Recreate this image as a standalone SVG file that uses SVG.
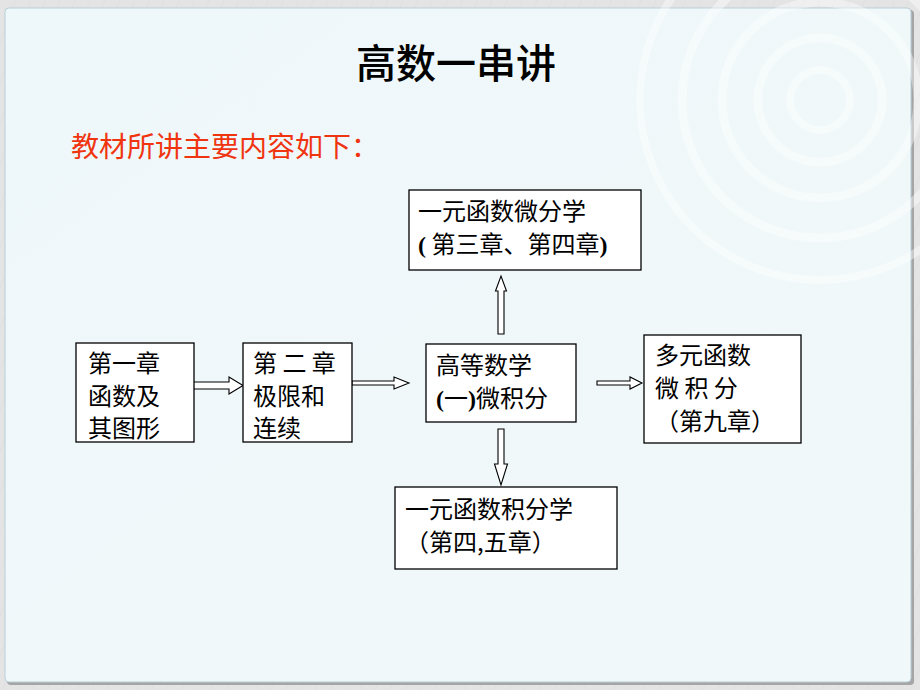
<svg xmlns="http://www.w3.org/2000/svg" width="920" height="690" viewBox="0 0 920 690">
  <defs>
    <style>
      .box { fill: #ffffff; stroke: #000000; stroke-width: 1.3; }
      .t { font-family: "Noto Sans CJK SC", "Liberation Sans", sans-serif; font-size: 24px; fill: #000000; }
      .p { font-family: "Liberation Serif", "Noto Sans CJK SC", serif; font-weight: bold; }
      .arrow { fill: #ffffff; stroke: #000000; stroke-width: 1.1; stroke-linejoin: miter; }
      .stripe { stroke: #d6d6d6; stroke-width: 1; }
      .ring { fill: none; stroke: #ffffff; stroke-opacity: 0.4; }
    </style>
    <linearGradient id="panel" x1="0" y1="0" x2="1" y2="1">
      <stop offset="0" stop-color="#eef7fa"/>
      <stop offset="1" stop-color="#f1f8f9"/>
    </linearGradient>
    <pattern id="diag" width="14" height="14" patternUnits="userSpaceOnUse" patternTransform="rotate(20)">
      <line x1="0" y1="0" x2="0" y2="14" class="stripe"/>
    </pattern>
  </defs>

  <!-- background -->
  <rect x="0" y="0" width="920" height="690" fill="#e4e4e4"/>
  <rect x="0" y="0" width="920" height="690" fill="url(#diag)" opacity="0.6"/>
  <rect x="7" y="10" width="907" height="675" rx="4" fill="#8a8a8a" opacity="0.7"/>
  <rect x="5" y="8" width="906" height="674" rx="4" fill="url(#panel)" stroke="#b9cfd8" stroke-width="1"/>
  <g id="rings">
    <circle cx="820" cy="100" r="30" class="ring" stroke-width="8"/>
    <circle cx="820" cy="100" r="62" class="ring" stroke-width="9"/>
    <circle cx="820" cy="100" r="98" class="ring" stroke-width="9"/>
    <circle cx="820" cy="100" r="138" class="ring" stroke-width="9" stroke-opacity="0.3"/>
    <circle cx="820" cy="100" r="180" class="ring" stroke-width="8" stroke-opacity="0.2"/>
  </g>

  <!-- titles -->
  <text x="456" y="78" text-anchor="middle" font-family="Noto Sans CJK SC, Liberation Sans, sans-serif" font-size="40" font-weight="500" fill="#000000">高数一串讲</text>
  <text x="71" y="157" font-family="Noto Sans CJK SC, Liberation Sans, sans-serif" font-size="28" fill="#f0340f">教材所讲主要内容如下：</text>

  <!-- connectors -->
  <g id="connectors">
    <polygon class="arrow" points="192,382 229,382 229,377 243,385.5 229,394 229,389 192,389"/>
    <polygon class="arrow" points="352,381 394,381 394,377 409,383 394,389 394,385 352,385"/>
    <polygon class="arrow" points="498,334 498,291 495.5,291 501,276 506.5,291 504,291 504,334"/>
    <polygon class="arrow" points="498,429 504,429 504,464 507.5,464 501,485 494.5,464 498,464"/>
    <polygon class="arrow" points="597,381 630,381 630,377 642,383 630,389 630,385 597,385"/>
  </g>

  <!-- nodes -->
  <g id="node-ch1">
    <rect class="box" x="76" y="343" width="118" height="99"/>
    <text class="t" x="88" y="372">第一章</text>
    <text class="t" x="88" y="405">函数及</text>
    <text class="t" x="88" y="437">其图形</text>
  </g>
  <g id="node-ch2">
    <rect class="box" x="243" y="343" width="109" height="99"/>
    <text class="t" x="253" y="372" xml:space="preserve">第 二 章</text>
    <text class="t" x="253" y="405">极限和</text>
    <text class="t" x="253" y="437">连续</text>
  </g>
  <g id="node-calc">
    <rect class="box" x="426" y="344" width="150" height="78"/>
    <text class="t" x="436" y="374">高等数学</text>
    <text class="t" x="436" y="407"><tspan class="p">(</tspan>一<tspan class="p">)</tspan>微积分</text>
  </g>
  <g id="node-diff">
    <rect class="box" x="409" y="190" width="232" height="80"/>
    <text class="t" x="418" y="220">一元函数微分学</text>
    <text class="t" x="418" y="253"><tspan class="p">(</tspan> 第三章、第四章<tspan class="p">)</tspan></text>
  </g>
  <g id="node-multi">
    <rect class="box" x="644" y="335" width="157" height="108"/>
    <text class="t" x="655" y="364">多元函数</text>
    <text class="t" x="655" y="397" xml:space="preserve">微 积 分</text>
    <text class="t" x="655" y="430">（第九章）</text>
  </g>
  <g id="node-integ">
    <rect class="box" x="395" y="487" width="222" height="82"/>
    <text class="t" x="405" y="518">一元函数积分学</text>
    <text class="t" x="405" y="551">（第四,五章）</text>
  </g>
</svg>
